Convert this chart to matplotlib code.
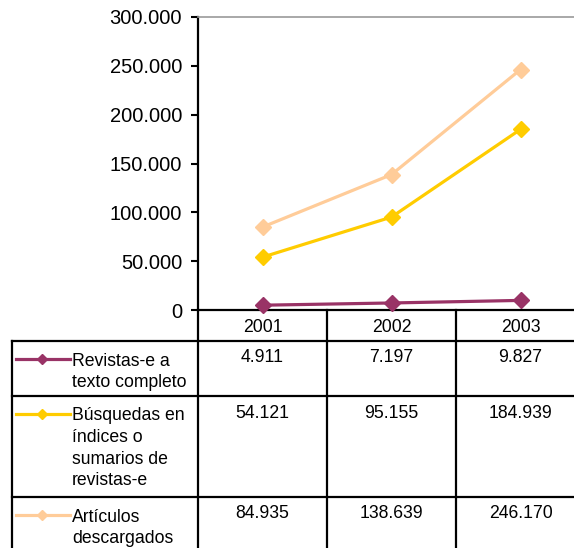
import numpy as np
import matplotlib.pyplot as plt
from matplotlib.ticker import FuncFormatter

plt.rcParams['font.family'] = ['Liberation Sans', 'DejaVu Sans']

# =========================
# DATA
# =========================

years = ["2001", "2002", "2003"]
revistas = [4911, 7197, 9827]
busquedas = [54121, 95155, 184939]
articulos = [84935, 138639, 246170]

series_labels = [
    ["Revistas-e a", "texto completo"],
    ["Búsquedas en", "índices o", "sumarios de", "revistas-e"],
    ["Artículos", "descargados"],
]
series_values = [revistas, busquedas, articulos]
series_colors = ["#993366", "#FFCC00", "#FFCC99"]


def miles(v):
    return f"{int(round(v)):,}".replace(",", ".")


# =========================
# FIGURE / PLOT AREA
# =========================

W, H = 574, 548
fig = plt.figure(figsize=(W / 100, H / 100), dpi=100)

ax_left, ax_top, ax_bottom, col_w = 198, 17, 310, 129
ax = fig.add_axes([ax_left / W, 1 - ax_bottom / H,
                   3 * col_w / W, (ax_bottom - ax_top) / H])

x = np.arange(len(years))
for vals, c in zip(series_values, series_colors):
    ax.plot(x, vals, color=c, lw=2.3, marker="D", ms=8, zorder=3,
            clip_on=False)

ax.set_xlim(-0.5, len(years) - 0.5)
ax.set_ylim(0, 300000)
ax.set_yticks(range(0, 300001, 50000))
ax.yaxis.set_major_formatter(FuncFormatter(lambda v, p: miles(v)))
ax.tick_params(axis="y", labelsize=14.5, length=5, width=1.5, pad=6.5)
ax.tick_params(axis="x", bottom=False, labelbottom=False)
ax.spines["top"].set_color("#999999")
ax.spines["top"].set_linewidth(1.2)
ax.spines["left"].set_linewidth(1.6)
ax.spines["bottom"].set_linewidth(1.6)
ax.spines["right"].set_visible(False)

# =========================
# DATA TABLE BELOW
# =========================

tab = fig.add_axes([0, 0, 1, 1])
tab.set_xlim(0, W)
tab.set_ylim(H, 0)
tab.axis("off")

lw = 1.6
fs = 12.7
tab_left = 12
header_top = ax_bottom
row_edges = [341, 396, 497, 560]
col_edges = [ax_left + i * col_w for i in range(len(years) + 1)]

# grid lines
for y in row_edges[:-1]:
    tab.plot([tab_left, W + 20], [y, y], color="black", lw=lw, clip_on=False)
tab.plot([tab_left, tab_left], [row_edges[0], row_edges[-1]],
         color="black", lw=lw)
for cx in col_edges:
    tab.plot([cx, cx], [header_top, row_edges[-1]], color="black", lw=lw)

# header
for i, yr in enumerate(years):
    tab.text(col_edges[i] + col_w / 2, header_top + 21.5, yr,
             ha="center", va="baseline", fontsize=fs)

# rows
for r, (lines, vals, c) in enumerate(zip(series_labels, series_values,
                                         series_colors)):
    top = row_edges[r]
    base = top + 24.5
    for k, line in enumerate(lines):
        tab.text(72, base + k * 21.5, line, ha="left", va="baseline",
                 fontsize=fs)
    tab.plot([16, 70], [base - 7, base - 7], color=c, lw=2.3)
    tab.plot([42], [base - 7], color=c, marker="D", ms=5.5)
    for i, v in enumerate(vals):
        tab.text(col_edges[i] + col_w / 2, top + 21.5, miles(v),
                 ha="center", va="baseline", fontsize=fs)

fig.savefig("out.png", dpi=100)
